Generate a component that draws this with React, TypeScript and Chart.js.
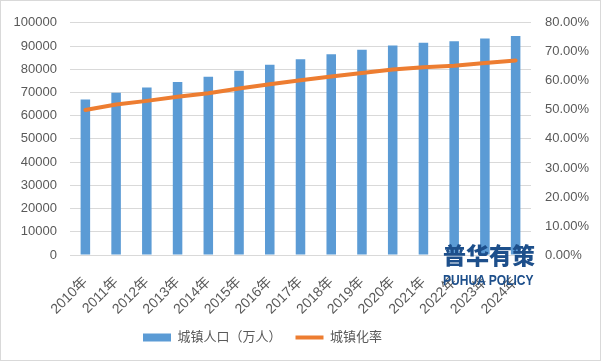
import React, { useEffect, useRef } from "react";
import { Chart, registerables } from "chart.js";

Chart.register(...registerables);

const categories = ["2010年", "2011年", "2012年", "2013年", "2014年", "2015年", "2016年", "2017年", "2018年", "2019年", "2020年", "2021年", "2022年", "2023年", "2024年"];
const urbanPopulation = [66978, 69927, 72175, 74502, 76738, 79302, 81924, 84343, 86433, 88426, 90220, 91425, 92071, 93267, 94350];
const urbanizationRate = [0.4995, 0.5183, 0.5310, 0.5449, 0.5575, 0.5733, 0.5884, 0.6024, 0.6150, 0.6271, 0.6389, 0.6472, 0.6522, 0.6616, 0.6700];
const seriesNames = ["城镇人口（万人）", "城镇化率"];
const watermarkCn = "普华有策";
const watermarkEn = "PUHUA POLICY";

const FONT = "'Liberation Sans', 'Noto Sans CJK SC', sans-serif";
const GREY = "#595959";

const legendShift = {
  id: "legendShift",
  afterLayout(chart: any) {
    const l = chart.legend;
    if (l) {
      l.left -= 38;
      l.right -= 38;
    }
  },
};

export default function App() {
  const canvasRef = useRef<HTMLCanvasElement>(null);

  useEffect(() => {
    document.body.style.margin = "0";
    const ctx = canvasRef.current!;
    const chart = new Chart(ctx, {
      type: "bar",
      data: {
        labels: categories,
        datasets: [
          {
            type: "bar",
            label: seriesNames[0],
            data: urbanPopulation,
            backgroundColor: "#5b9bd5",
            borderWidth: 0,
            barPercentage: 0.31,
            categoryPercentage: 1,
            yAxisID: "y",
            order: 1,
            pointStyle: "rect",
          } as any,
          {
            type: "line",
            label: seriesNames[1],
            data: urbanizationRate,
            borderColor: "#ed7d31",
            backgroundColor: "#ed7d31",
            borderWidth: 4,
            pointRadius: 0,
            tension: 0,
            borderCapStyle: "round",
            yAxisID: "y1",
            order: 0,
            pointStyle: "line",
          } as any,
        ],
      },
      plugins: [legendShift],
      options: {
        animation: false,
        responsive: false,
        maintainAspectRatio: false,
        layout: { padding: { left: 0, right: 0, top: 18, bottom: 6 } },
        plugins: {
          tooltip: { enabled: false },
          legend: {
            position: "bottom",
            labels: {
              usePointStyle: true,
              pointStyleWidth: 28,
              boxHeight: 8,
              boxWidth: 28,
              padding: 14,
              color: GREY,
              font: { family: FONT, size: 13 },
              sort: (a: any, b: any) => a.datasetIndex - b.datasetIndex,
            },
          },
        },
        scales: {
          x: {
            grid: { display: false, drawTicks: false },
            border: { display: false },
            ticks: {
              color: GREY,
              font: { family: FONT, size: 14 },
              maxRotation: 45,
              minRotation: 45,
              autoSkip: false,
              padding: 19,
            },
            afterFit: (s: any) => {
              s.height = 62;
            },
          },
          y: {
            position: "left",
            min: 0,
            max: 100000,
            ticks: {
              stepSize: 10000,
              color: GREY,
              font: { family: FONT, size: 13 },
              padding: 13,
              callback: (v: any) => String(v),
            },
            grid: { color: "#d9d9d9", drawTicks: false, lineWidth: 1 },
            border: { display: false },
            afterFit: (s: any) => {
              s.width = 69;
            },
          },
          y1: {
            position: "right",
            min: 0,
            max: 0.8,
            ticks: {
              stepSize: 0.1,
              color: GREY,
              font: { family: FONT, size: 13 },
              padding: 14,
              callback: (v: any) => (Number(v) * 100).toFixed(2) + "%",
            },
            grid: { drawOnChartArea: false, drawTicks: false },
            border: { display: false },
            afterFit: (s: any) => {
              s.width = 69;
            },
          },
        },
      },
    });
    return () => chart.destroy();
  }, []);

  return (
    <div
      style={{
        position: "relative",
        width: 601,
        height: 361,
        boxSizing: "border-box",
        border: "1px solid #d9d9d9",
        background: "#fff",
      }}
    >
      <canvas ref={canvasRef} width={599} height={359} style={{ display: "block" }} />
      <div
        style={{
          position: "absolute",
          left: 442,
          top: 239,
          width: 92,
          textAlign: "center",
          color: "#1d4f8b",
          fontFamily: "'Noto Sans CJK SC', sans-serif",
          fontWeight: 900,
          fontSize: 23,
          lineHeight: "28px",
          whiteSpace: "nowrap",
          pointerEvents: "none",
        }}
      >
        {watermarkCn}
      </div>
      <div
        style={{
          position: "absolute",
          left: 442,
          top: 271,
          color: "#1d4f8b",
          fontFamily: "'Liberation Sans', sans-serif",
          fontWeight: 700,
          fontSize: 14,
          lineHeight: "16px",
          whiteSpace: "nowrap",
          transform: "scaleX(0.86)",
          transformOrigin: "left top",
          pointerEvents: "none",
        }}
      >
        {watermarkEn}
      </div>
    </div>
  );
}
